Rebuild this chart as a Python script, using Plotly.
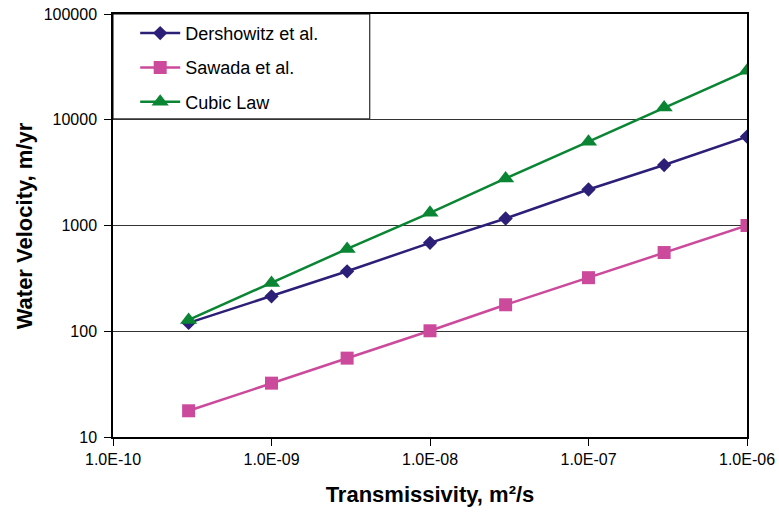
import plotly.graph_objects as go

transmissivity = [3e-10, 1e-9, 3e-9, 1e-8, 3e-8, 1e-7, 3e-7, 1e-6]
dershowitz = [120, 214, 369, 686, 1165, 2190, 3730, 6930]
sawada = [17.7, 32.3, 55.7, 101, 178, 321, 555, 1000]
cubic = [128, 286, 601, 1318, 2786, 6210, 13060, 29000]

x_tickvals = [1e-10, 1e-9, 1e-8, 1e-7, 1e-6]
x_ticktext = ["1.0E-10", "1.0E-09", "1.0E-08", "1.0E-07", "1.0E-06"]
y_tickvals = [10, 100, 1000, 10000, 100000]
y_ticktext = ["10", "100", "1000", "10000", "100000"]

FONT = "Liberation Sans, Arial, sans-serif"

fig = go.Figure()
series = [
    ("Dershowitz et al.", dershowitz, "#2B1F78", "diamond", 11),
    ("Sawada et al.", sawada, "#CC4A9C", "square", 13),
    ("Cubic Law", cubic, "#0A8533", "triangle-up", 15),
]
for i, (name, vals, col, sym, size) in enumerate(series):
    fig.add_trace(go.Scatter(
        x=transmissivity, y=vals, name=name, mode="lines+markers",
        line=dict(color=col, width=2.5),
        marker=dict(symbol=sym, size=size, color=col, line=dict(width=0)),
        legendgroup=f"g{i}",
    ))

fig.add_shape(type="rect", xref="paper", yref="paper",
              x0=0, x1=0.405, y0=0.752, y1=1,
              line=dict(color="black", width=1), fillcolor="white", layer="below")

fig.add_annotation(text="<b>Water Velocity, m/yr</b>", xref="paper", yref="paper",
                   x=-0.139, y=0.50, xanchor="center", yanchor="middle",
                   textangle=-90, showarrow=False,
                   font=dict(family=FONT, size=22, color="black"))

fig.update_layout(
    width=779, height=513,
    margin=dict(l=113, r=32, t=14, b=76),
    paper_bgcolor="white", plot_bgcolor="white",
    font=dict(family=FONT, size=17, color="black"),
    showlegend=True,
    legend=dict(x=0.035, y=0.998, xanchor="left", yanchor="top",
                bgcolor="rgba(0,0,0,0)", borderwidth=0,
                font=dict(family=FONT, size=18, color="black"),
                itemwidth=40, tracegroupgap=8),
    xaxis=dict(
        type="log", range=[-10, -6], automargin=False, ticklabeloverflow="allow",
        tickvals=x_tickvals, ticktext=x_ticktext,
        ticks="outside", ticklen=7, tickcolor="black",
        showline=True, linecolor="black", linewidth=1.5, mirror=True,
        showgrid=False, zeroline=False,
        tickfont=dict(family=FONT, size=16),
        title=dict(text="<b>Transmissivity, m²/s</b>", font=dict(family=FONT, size=22), standoff=20),
    ),
    yaxis=dict(
        type="log", range=[1, 5], automargin=False, ticklabeloverflow="allow",
        tickvals=y_tickvals, ticktext=y_ticktext,
        ticks="outside", ticklen=7, tickcolor="black", ticklabelstandoff=4,
        showline=True, linecolor="black", linewidth=1.5, mirror=True,
        showgrid=True, gridcolor="#333333", gridwidth=1,
        zeroline=False,
        tickfont=dict(family=FONT, size=16),
    ),
)

# remove the page's default body margin so the figure fills the window exactly
fig.write_html("out.html", config={"displayModeBar": False},
               post_script="document.body.style.margin='0';")
